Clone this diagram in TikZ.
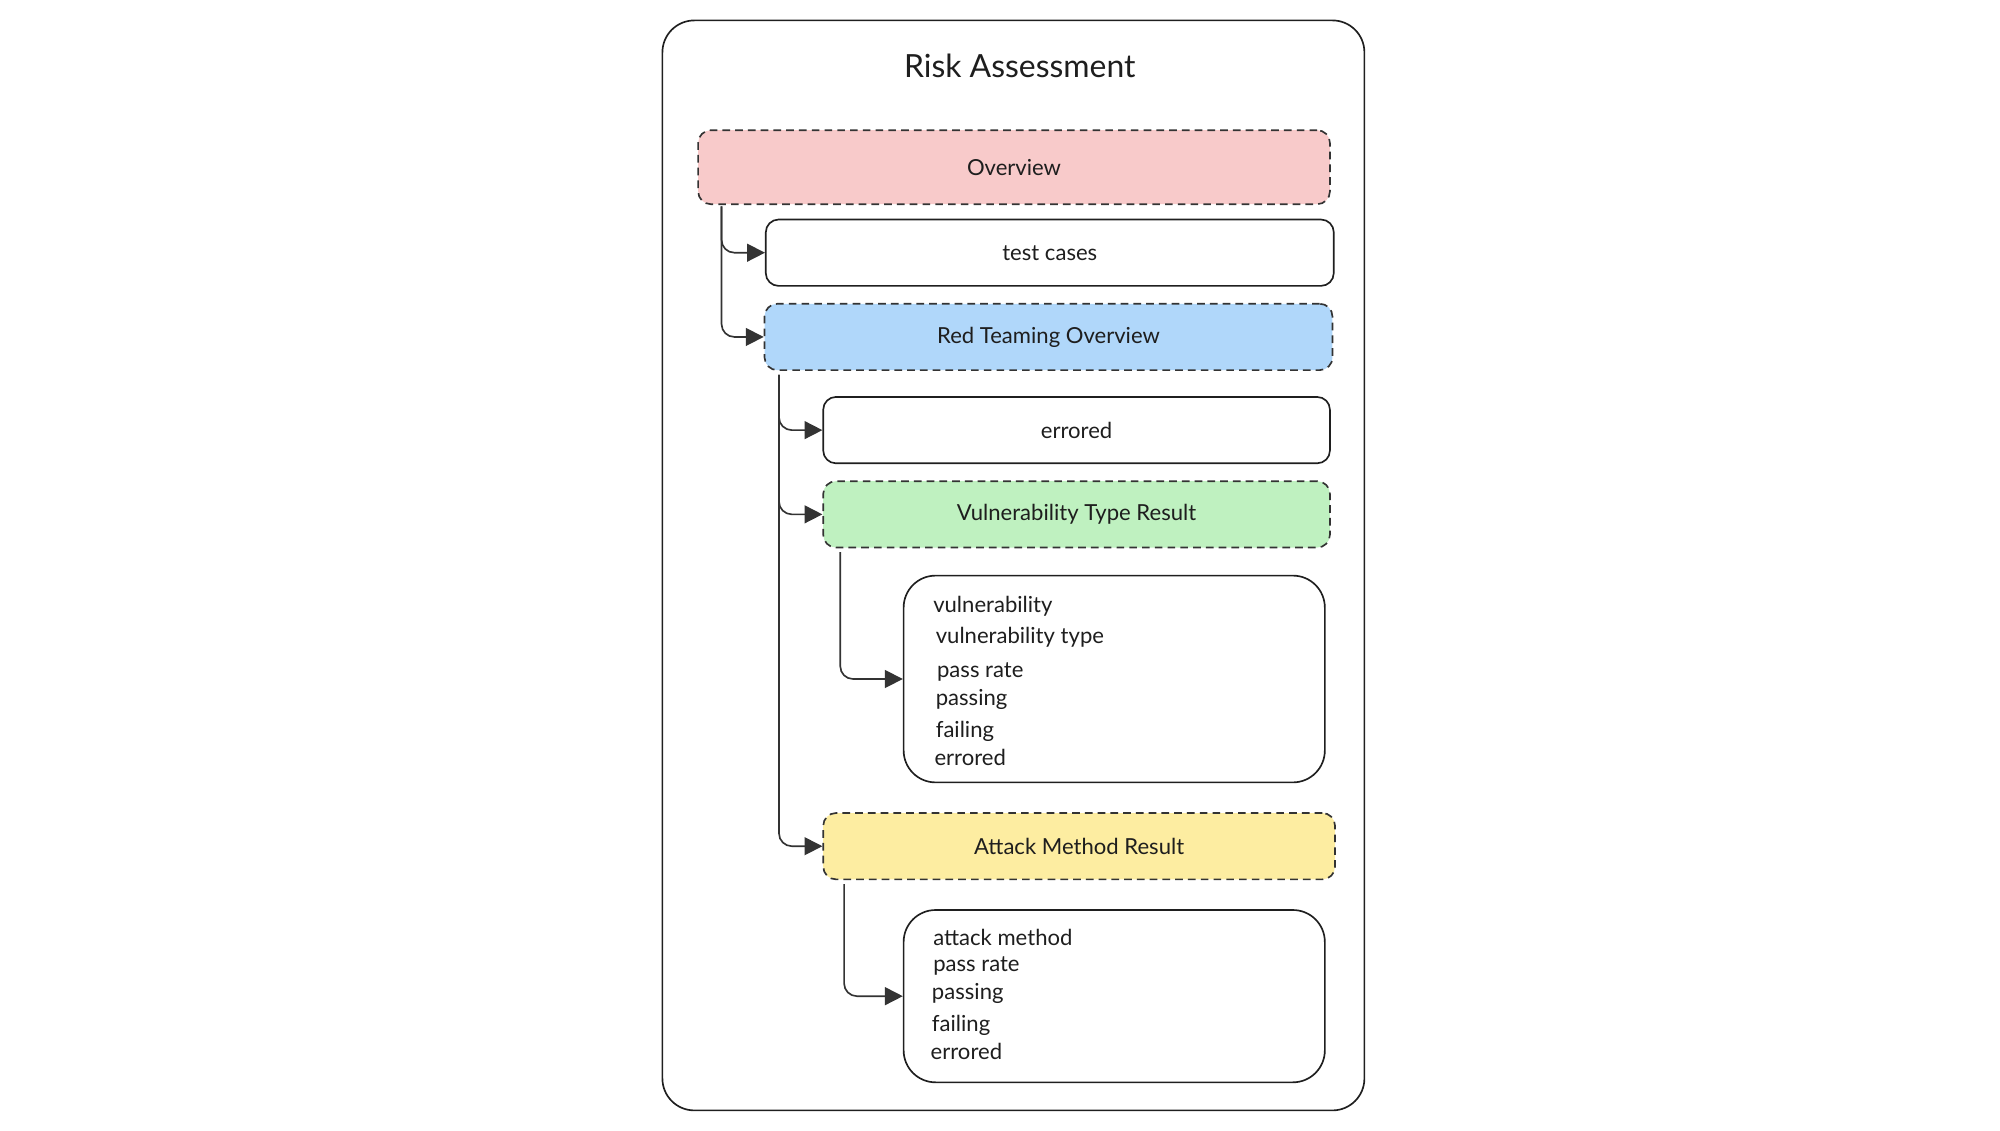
\documentclass[tikz,border=0pt]{standalone}
\usepackage{fontspec}
\setmainfont{Lato}
\usetikzlibrary{arrows.meta,calc}
\definecolor{textc}{HTML}{1E1E1E}
\definecolor{linec}{HTML}{333333}
\definecolor{pinkc}{HTML}{F8CACA}
\definecolor{bluec}{HTML}{B0D7FA}
\definecolor{greenc}{HTML}{BFF1C0}
\definecolor{yellowc}{HTML}{FDEDA1}
\begin{document}
\begin{tikzpicture}[x=1pt,y=-1pt,
  box/.style={draw=black!88, line width=1.3pt, rounded corners=10pt, minimum height=52pt, inner sep=0pt, font=\fontsize{17.3}{20}\selectfont, text=textc},
  dbox/.style={box, draw=linec, dash pattern=on 6pt off 4pt},
  lbox/.style={draw=black!88, line width=1.3pt, rounded corners=25pt, inner sep=0pt, minimum width=330pt},
  item/.style={anchor=base west, inner sep=0pt, font=\fontsize{17.3}{20}\selectfont, text=textc},
  conn/.style={draw=linec, line width=1.3pt, rounded corners=10pt, -{Triangle[length=14pt,width=14pt]}}]
\useasboundingbox (0,0) rectangle (1567,885.4);
\node[draw=black!88, line width=1.3pt, rounded corners=25pt, minimum width=550pt, minimum height=854pt, inner sep=0pt] (outer) at (794,443) {};
\node[font=\fontsize{25}{30}\selectfont, text=textc] (title) at (799,52) {Risk Assessment};
\node[dbox, fill=pinkc, minimum width=495pt, minimum height=58pt] (ov) at (794.5,131) {Overview};
\node[box, minimum width=445pt] (tc) at (822.5,198) {test cases};
\node[dbox, fill=bluec, minimum width=445pt] (rto) at (821.5,264) {Red Teaming Overview};
\node[box, minimum width=397pt] (err) at (843.5,337) {errored};
\node[dbox, fill=greenc, minimum width=397pt] (vtr) at (843.5,403) {Vulnerability Type Result};
\node[lbox, minimum height=162pt] (l1) at (873,532) {};
\node[dbox, fill=yellowc, minimum width=401pt] (amr) at (845.5,663) {Attack Method Result};
\node[lbox, minimum height=135pt] (l2) at (873,780.5) {};
\node[item] (l1a) at (731,480) {vulnerability};
\node[item] (l1b) at (733,504) {vulnerability type};
\node[item] (l1c) at (734,531) {pass rate};
\node[item] (l1d) at (733,553) {passing};
\node[item] (l1e) at (733,578) {failing};
\node[item] (l1f) at (732,600) {errored};
\node[item] (l2a) at (731,741) {attack method};
\node[item] (l2b) at (731,761) {pass rate};
\node[item] (l2c) at (730,783) {passing};
\node[item] (l2d) at (730,808) {failing};
\node[item] (l2e) at (729,830) {errored};
\draw[conn] ($(ov.south west)+(19,1)$) |- (tc.west);
\draw[conn] ($(ov.south west)+(19,1)$) |- (rto.west);
\draw[conn] ($(rto.south west)+(12,3)$) |- (err.west);
\draw[conn] ($(rto.south west)+(12,3)$) |- (vtr.west);
\draw[conn] ($(rto.south west)+(12,3)$) |- (amr.west);
\draw[conn] ($(vtr.south west)+(14,3)$) |- (l1.west);
\draw[conn] ($(amr.south west)+(17,3)$) |- (l2.west);
\end{tikzpicture}
\end{document}
